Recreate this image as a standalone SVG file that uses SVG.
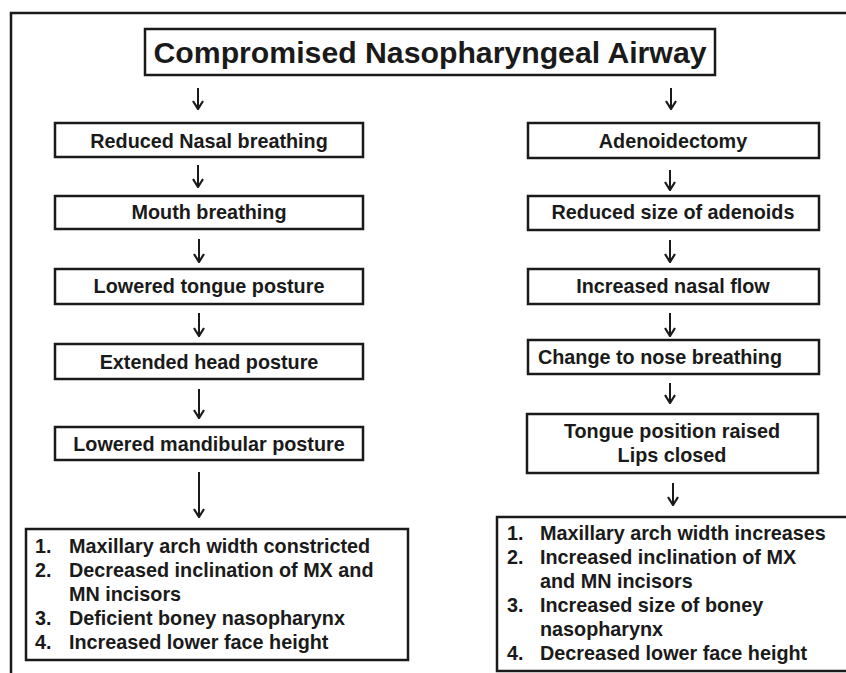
<svg xmlns="http://www.w3.org/2000/svg" width="846" height="673" viewBox="0 0 846 673">
<defs>
<style>
.frame{fill:none;stroke:#1a1a1a;stroke-width:2.5}
.box{fill:#fff;stroke:#1a1a1a;stroke-width:2.5}
.t{font-family:"Liberation Sans",Arial,sans-serif;font-weight:bold;font-size:19.8px;fill:#1a1a1a}
.c{text-anchor:middle}
.title{font-size:29px}
.arr{stroke:#1a1a1a;stroke-width:2;fill:none;marker-end:url(#ah)}
</style>
<marker id="ah" viewBox="0 0 12 12" refX="11" refY="6" markerWidth="12" markerHeight="12" markerUnits="userSpaceOnUse" orient="auto">
<path d="M3,1 L11,6 L3,11" fill="none" stroke="#1a1a1a" stroke-width="2.2"/>
</marker>
</defs>
<rect width="846" height="673" fill="#fff"/>
<path class="frame" d="M11,680 V13 H850"/>

<g id="title">
<rect class="box" x="145" y="29" width="570" height="46"/>
<text class="t c title" x="430" y="63" textLength="553" lengthAdjust="spacingAndGlyphs">Compromised Nasopharyngeal Airway</text>
</g>

<g id="reduced-nasal">
<rect class="box" x="55" y="123" width="308" height="34"/>
<text class="t c" x="209" y="148">Reduced Nasal breathing</text>
</g>
<g id="mouth-breathing">
<rect class="box" x="55" y="196" width="308" height="33"/>
<text class="t c" x="209" y="219">Mouth breathing</text>
</g>
<g id="lowered-tongue">
<rect class="box" x="55" y="269" width="308" height="35"/>
<text class="t c" x="209" y="293">Lowered tongue posture</text>
</g>
<g id="extended-head">
<rect class="box" x="55" y="344" width="308" height="35"/>
<text class="t c" x="209" y="369">Extended head posture</text>
</g>
<g id="lowered-mandibular">
<rect class="box" x="55" y="427" width="308" height="33"/>
<text class="t c" x="209" y="451">Lowered mandibular posture</text>
</g>
<g id="left-results">
<rect class="box" x="26" y="529" width="382" height="131"/>
<text class="t" x="35" y="553">1.</text>
<text class="t" x="69" y="553">Maxillary arch width constricted</text>
<text class="t" x="35" y="577">2.</text>
<text class="t" x="69" y="577">Decreased inclination of MX and</text>
<text class="t" x="69" y="601">MN incisors</text>
<text class="t" x="35" y="625">3.</text>
<text class="t" x="69" y="625">Deficient boney nasopharynx</text>
<text class="t" x="35" y="649">4.</text>
<text class="t" x="69" y="649">Increased lower face height</text>
</g>

<g id="adenoidectomy">
<rect class="box" x="528" y="123" width="291" height="35"/>
<text class="t c" x="673" y="148">Adenoidectomy</text>
</g>
<g id="reduced-size">
<rect class="box" x="528" y="196" width="291" height="34"/>
<text class="t c" x="673" y="219">Reduced size of adenoids</text>
</g>
<g id="increased-flow">
<rect class="box" x="528" y="269" width="291" height="35"/>
<text class="t c" x="673" y="293">Increased nasal flow</text>
</g>
<g id="nose-breathing">
<rect class="box" x="528" y="340" width="291" height="34"/>
<text class="t c" x="660" y="364">Change to nose breathing</text>
</g>
<g id="tongue-raised">
<rect class="box" x="527" y="414" width="291" height="59"/>
<text class="t c" x="672" y="438">Tongue position raised</text>
<text class="t c" x="672" y="462">Lips closed</text>
</g>
<g id="right-results">
<rect class="box" x="497" y="517" width="360" height="154"/>
<text class="t" x="507" y="540">1.</text>
<text class="t" x="540" y="540">Maxillary arch width increases</text>
<text class="t" x="507" y="564">2.</text>
<text class="t" x="540" y="564">Increased inclination of MX</text>
<text class="t" x="540" y="588">and MN incisors</text>
<text class="t" x="507" y="612">3.</text>
<text class="t" x="540" y="612">Increased size of boney</text>
<text class="t" x="540" y="636">nasopharynx</text>
<text class="t" x="507" y="660">4.</text>
<text class="t" x="540" y="660">Decreased lower face height</text>
</g>

<g id="connectors">
<line class="arr" x1="198" y1="88" x2="198" y2="109"/>
<line class="arr" x1="198" y1="165" x2="198" y2="187"/>
<line class="arr" x1="199" y1="239" x2="199" y2="262"/>
<line class="arr" x1="199" y1="313" x2="199" y2="336"/>
<line class="arr" x1="199" y1="389" x2="199" y2="418"/>
<line class="arr" x1="199" y1="472" x2="199" y2="517"/>
<line class="arr" x1="671" y1="88" x2="671" y2="109"/>
<line class="arr" x1="670" y1="170" x2="670" y2="190"/>
<line class="arr" x1="670" y1="240" x2="670" y2="262"/>
<line class="arr" x1="670" y1="313" x2="670" y2="336"/>
<line class="arr" x1="670" y1="383" x2="670" y2="403"/>
<line class="arr" x1="673" y1="483" x2="673" y2="505"/>
</g>
</svg>
